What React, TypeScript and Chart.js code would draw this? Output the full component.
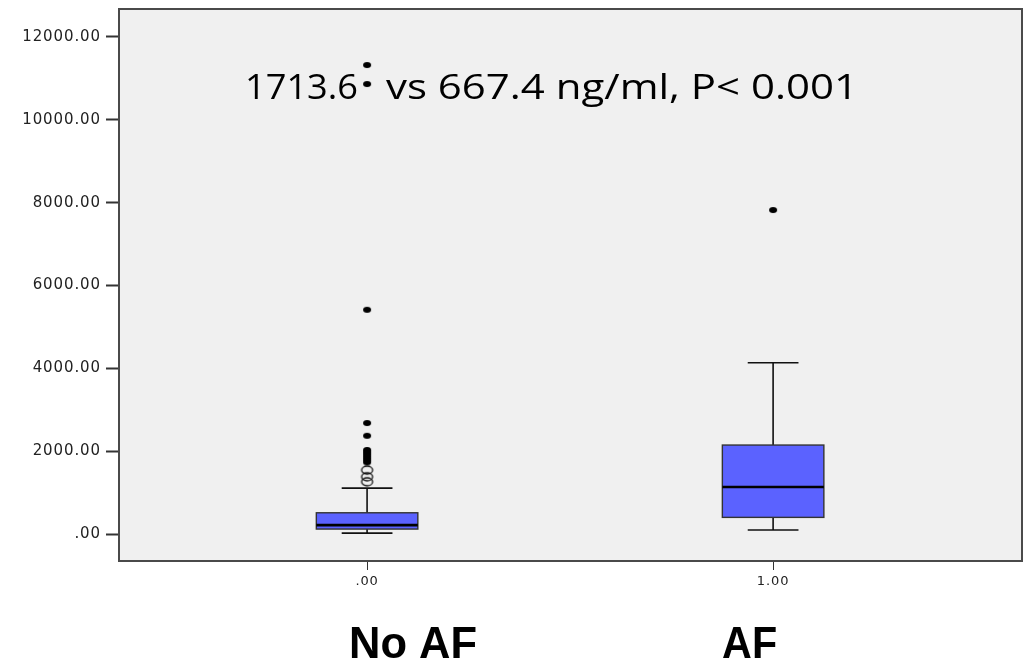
import React, { useEffect, useRef } from 'react';
import { Chart, registerables } from 'chart.js';

Chart.register(...registerables);

// ---- data ----
const categories = [0, 1];
const categoryTickLabels = ['.00', '1.00'];
const groupNames = ['No AF', 'AF'];
const whiskerLow = [24, 97];
const q1 = [121, 403];
const medians = [217, 1135];
const q3 = [514, 2149];
const whiskerHigh = [1110, 4136];
const noAfExtremes = [11323, 10864, 5415, 2680, 2373, 2030, 1980, 1930, 1880, 1830, 1780, 1730];
const noAfOutliers = [1545, 1383, 1263];
const afExtremes = [7822];
const afOutliers: number[] = [];
const yTickValues = [0, 2000, 4000, 6000, 8000, 10000, 12000];
const annotationParts = ['1713.6', 'vs 667.4 ng/ml, P< 0.001'];

const BOX_WIDTH = 0.25; // in x units
const CAP_WIDTH = 0.125;

function makeMarker(rx: number, ry: number, filled: boolean): HTMLCanvasElement {
  const c = document.createElement('canvas');
  c.width = rx * 2 + 4;
  c.height = ry * 2 + 4;
  const g = c.getContext('2d')!;
  g.beginPath();
  g.ellipse(c.width / 2, c.height / 2, rx, ry, 0, 0, Math.PI * 2);
  if (filled) {
    g.fillStyle = '#000';
    g.fill();
  } else {
    g.strokeStyle = '#111';
    g.lineWidth = 1.3;
    g.stroke();
  }
  return c;
}

function drawFitted(ctx: CanvasRenderingContext2D, text: string, x: number, y: number, font: string, width: number) {
  ctx.save();
  ctx.font = font;
  const w = ctx.measureText(text).width;
  ctx.translate(x, y);
  ctx.scale(width / w, 1);
  ctx.textAlign = 'left';
  ctx.textBaseline = 'alphabetic';
  ctx.fillStyle = '#000';
  ctx.fillText(text, 0, 0);
  ctx.restore();
}

const boxPlugin = {
  id: 'boxPlugin',
  beforeDraw(chart: any) {
    const { ctx, chartArea } = chart;
    ctx.save();
    ctx.fillStyle = '#ffffff';
    ctx.fillRect(0, 0, chart.width, chart.height);
    ctx.fillStyle = '#f0f0f0';
    ctx.fillRect(chartArea.left, chartArea.top, chartArea.right - chartArea.left, chartArea.bottom - chartArea.top);
    ctx.restore();
    (ctx as any).letterSpacing = '0.9px';
  },
  beforeDatasetsDraw(chart: any) {
    const { ctx, scales, chartArea } = chart;
    (ctx as any).letterSpacing = '0px';
    // annotation (under the points)
    drawFitted(ctx, annotationParts[0], chartArea.left + 126, chartArea.top + 90, '34px "Open Sans"', 113);
    drawFitted(ctx, annotationParts[1], chartArea.left + 267, chartArea.top + 90, '34px "Open Sans"', 472);
    const xs = scales.x;
    const ys = scales.y;
    ctx.save();
    categories.forEach((c, i) => {
      const xc = xs.getPixelForValue(c);
      const xl = xs.getPixelForValue(c - BOX_WIDTH / 2);
      const xr = xs.getPixelForValue(c + BOX_WIDTH / 2);
      const cl = xs.getPixelForValue(c - CAP_WIDTH / 2);
      const cr = xs.getPixelForValue(c + CAP_WIDTH / 2);
      const yq1 = ys.getPixelForValue(q1[i]);
      const yq3 = ys.getPixelForValue(q3[i]);
      const ym = ys.getPixelForValue(medians[i]);
      const ywl = ys.getPixelForValue(whiskerLow[i]);
      const ywh = ys.getPixelForValue(whiskerHigh[i]);
      ctx.strokeStyle = '#111';
      ctx.lineWidth = 1.6;
      ctx.beginPath();
      ctx.moveTo(xc, yq3);
      ctx.lineTo(xc, ywh);
      ctx.moveTo(cl, ywh);
      ctx.lineTo(cr, ywh);
      ctx.moveTo(xc, yq1);
      ctx.lineTo(xc, ywl);
      ctx.moveTo(cl, ywl);
      ctx.lineTo(cr, ywl);
      ctx.stroke();
      ctx.fillStyle = '#5b62ff';
      ctx.fillRect(xl, yq3, xr - xl, yq1 - yq3);
      ctx.strokeStyle = '#333';
      ctx.lineWidth = 1.4;
      ctx.strokeRect(xl, yq3, xr - xl, yq1 - yq3);
      ctx.strokeStyle = '#000';
      ctx.lineWidth = 2.6;
      ctx.beginPath();
      ctx.moveTo(xl, ym);
      ctx.lineTo(xr, ym);
      ctx.stroke();
    });
    ctx.restore();
  },
  afterDraw(chart: any) {
    const { ctx, chartArea, scales } = chart;
    (ctx as any).letterSpacing = '0px';
    ctx.save();
    ctx.strokeStyle = '#4a4a4a';
    ctx.lineWidth = 2;
    ctx.strokeRect(chartArea.left, chartArea.top, chartArea.right - chartArea.left, chartArea.bottom - chartArea.top);
    ctx.restore();
    // group names
    const xs = scales.x;
    drawFitted(ctx, groupNames[0], xs.getPixelForValue(categories[0]) - 18, chart.height - 8, 'bold 44px "Liberation Sans"', 128);
    drawFitted(ctx, groupNames[1], xs.getPixelForValue(categories[1]) - 51, chart.height - 8, 'bold 44px "Liberation Sans"', 55);
  },
};

export default function App() {
  const ref = useRef<HTMLCanvasElement>(null);
  useEffect(() => {
    const star = makeMarker(4, 3, true);
    const ring = makeMarker(5.5, 4, false);
    const chart = new Chart(ref.current!, {
      type: 'scatter',
      data: {
        datasets: [
          { label: 'No AF extremes', data: noAfExtremes.map((y) => ({ x: categories[0], y })), pointStyle: star as any, pointRadius: 4 },
          { label: 'No AF outliers', data: noAfOutliers.map((y) => ({ x: categories[0], y })), pointStyle: ring as any, pointRadius: 5 },
          { label: 'AF extremes', data: afExtremes.map((y) => ({ x: categories[1], y })), pointStyle: star as any, pointRadius: 4 },
          { label: 'AF outliers', data: afOutliers.map((y) => ({ x: categories[1], y })), pointStyle: ring as any, pointRadius: 5 },
        ],
      },
      options: {
        animation: false,
        responsive: false,
        maintainAspectRatio: false,
        layout: { padding: { left: 0, right: 6, top: 9, bottom: 0 } },
        plugins: { legend: { display: false }, tooltip: { enabled: false } },
        scales: {
          x: {
            type: 'linear',
            min: -0.611,
            max: 1.613,
            afterBuildTicks: (s: any) => {
              s.ticks = categories.map((v) => ({ value: v }));
            },
            afterFit: (s: any) => {
              s.height = 105;
              s.paddingLeft = 0;
              s.paddingRight = 0;
            },
            ticks: {
              callback: (v: any) => categoryTickLabels[categories.indexOf(Number(v))] ?? '',
              font: { family: '"DejaVu Sans"', size: 13 },
              color: '#222',
              padding: 4,
              maxRotation: 0,
            },
            grid: { display: true, drawOnChartArea: false, drawTicks: true, tickLength: 9, color: '#333', tickColor: '#333' },
            border: { display: false },
          },
          y: {
            type: 'linear',
            min: -650,
            max: 12675,
            afterBuildTicks: (s: any) => {
              s.ticks = yTickValues.map((v) => ({ value: v }));
            },
            afterFit: (s: any) => {
              s.width = 119;
              s.paddingTop = 0;
              s.paddingBottom = 0;
            },
            ticks: {
              callback: (v: any) => (Number(v) === 0 ? '.00' : Number(v).toFixed(2)),
              font: { family: '"DejaVu Sans"', size: 15 },
              color: '#222',
              padding: 5,
            },
            grid: { display: true, drawOnChartArea: false, drawTicks: true, tickLength: 13, color: '#333', tickColor: '#333', tickWidth: 2 },
            border: { display: false },
          },
        },
      },
      plugins: [boxPlugin],
    });
    return () => chart.destroy();
  }, []);
  return (
    <div style={{ position: 'fixed', left: 0, top: 0, width: 1028, height: 666, background: '#fff' }}>
      <canvas ref={ref} width={1028} height={666} style={{ width: 1028, height: 666 }} />
    </div>
  );
}
